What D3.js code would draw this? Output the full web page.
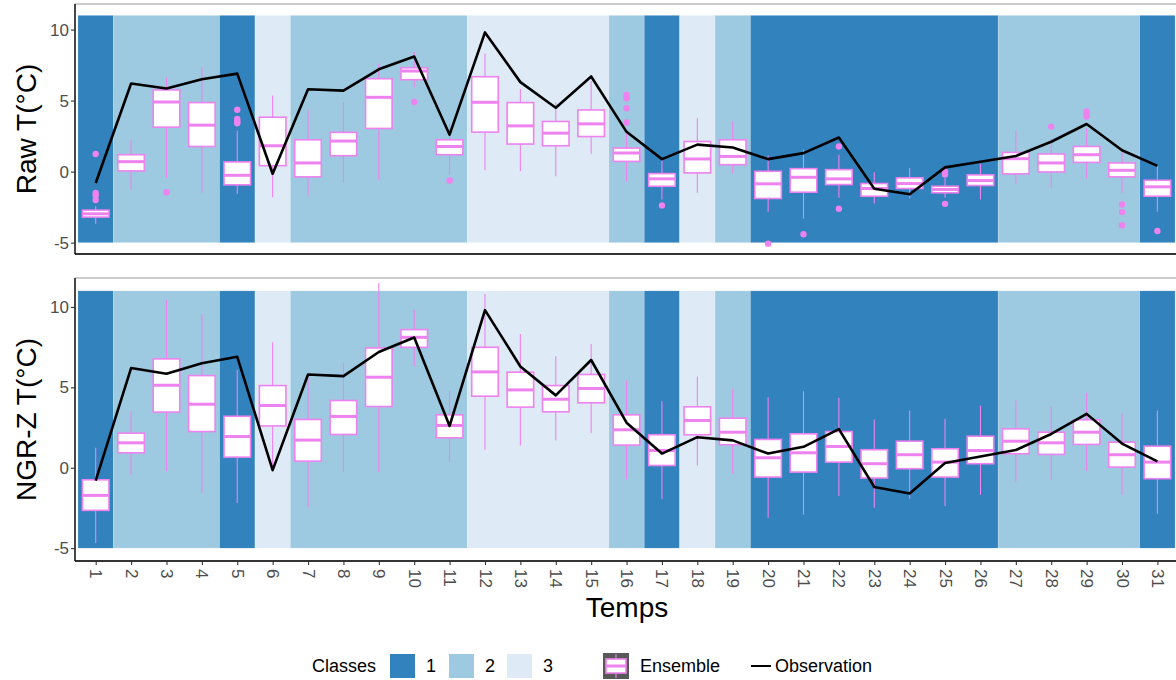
<!DOCTYPE html>
<html><head><meta charset="utf-8">
<script src="https://cdn.jsdelivr.net/npm/d3@7"></script>
<style>
html,body{margin:0;padding:0;background:#fff;}
svg{display:block;font-family:"Liberation Sans",Arial,sans-serif;}
</style></head>
<body><svg id="chart" width="1176" height="680"></svg>
<script>
const days = [1,2,3,4,5,6,7,8,9,10,11,12,13,14,15,16,17,18,19,20,21,22,23,24,25,26,27,28,29,30,31];
const classes = [1,2,2,2,1,3,2,2,2,2,2,3,3,3,3,2,1,3,2,1,1,1,1,1,1,1,2,2,2,2,1];
const classLabels = ["1","2","3"];
const yTicks = [-5,0,5,10];
const observation = [-0.8,6.2,5.85,6.5,6.9,-0.15,5.8,5.7,7.2,8.1,2.6,9.8,6.3,4.5,6.7,2.8,0.88,1.9,1.7,0.88,1.3,2.4,-1.2,-1.6,0.3,0.7,1.1,2.1,3.35,1.5,0.4];

// Raw ensemble boxplot statistics
const rawMin    = [-3.67,-1.26,-0.44,-1.49,-1.56,-1.8,-1.68,-0.79,-0.61,5.93,-0.21,0.09,0.02,-0.33,1.26,-0.68,-1.96,-1.49,-0.14,-2.83,-3.31,-1.84,-2.24,-1.89,-1.84,-1.96,-0.86,-1.14,-0.49,-1.49,-2.83];
const rawQ1     = [-3.2,0.05,3.13,1.77,-0.93,0.42,-0.37,1.12,3.04,6.47,1.19,2.78,1.94,1.82,2.47,0.72,-1.03,-0.09,0.49,-1.89,-1.45,-0.91,-1.73,-1.19,-1.49,-0.98,-0.16,-0.02,0.65,-0.37,-1.73];
const rawMedian = [-2.97,0.7,4.9,3.27,-0.26,1.82,0.61,2.15,5.23,7.08,1.77,4.88,3.22,2.71,3.36,1.31,-0.51,0.89,1.07,-0.86,-0.4,-0.51,-1.19,-0.84,-1.26,-0.63,0.91,0.61,1.19,0.09,-1.07];
const rawQ3     = [-2.71,1.19,5.75,4.86,0.68,3.83,2.24,2.76,6.54,7.31,2.24,6.68,4.86,3.53,4.34,1.66,-0.14,2.12,2.24,0.02,0.21,0.14,-0.84,-0.44,-1.03,-0.23,1.35,1.24,1.77,0.61,-0.61];
const rawMax    = [-2.43,2.24,6.63,7.34,2.9,5.35,4.34,4.88,7.62,8.43,3.4,8.32,5.82,4.88,6.38,2.7,0.84,3.76,3.53,1.14,1.54,1.19,-0.05,0.26,-0.45,0.56,2.87,2.29,3.06,1.42,0.44];
const rawOutliers = [[1.24,-1.5,-1.68,-2.0],[],[-1.45],[],[4.35,3.7,3.55,3.4],[],[],[],[],[4.9],[-0.63],[],[],[],[],[5.4,5.16,4.46,3.46],[-2.38],[],[],[-5.07],[-4.41],[1.77,-2.61],[],[],[0.02,-0.2,-2.27],[],[],[3.17],[4.23,4.04,3.88],[-2.31,-2.85,-3.78],[-4.18]];

// NGR-Z ensemble boxplot statistics
const ngrMin    = [-4.68,-0.44,-0.21,-1.58,-2.2,0.1,-2.45,-0.27,-0.27,6.31,0.35,1.12,1.39,1.7,2.15,-0.71,-1.95,0.14,-0.37,-3.11,-2.92,-1.76,-2.49,-1.93,-2.38,-1.68,-0.85,-0.75,-0.21,-1.68,-2.86];
const ngrQ1     = [-2.65,0.93,3.46,2.25,0.66,2.6,0.41,2.07,3.81,7.49,1.86,4.45,3.77,3.48,4.04,1.41,0.14,2.05,1.43,-0.58,-0.27,0.35,-0.64,-0.06,-0.58,0.25,0.87,0.83,1.45,0.04,-0.68];
const ngrMedian = [-1.72,1.55,5.13,3.95,1.94,3.87,1.72,3.19,5.63,8.11,2.63,5.96,4.84,4.26,4.93,2.36,1.07,2.94,2.21,0.62,0.93,1.32,0.25,0.81,0.35,1.07,1.65,1.55,2.21,0.81,0.35];
const ngrQ3     = [-0.75,2.15,6.77,5.73,3.2,5.11,3.0,4.18,7.45,8.59,3.29,7.49,5.94,5.11,5.8,3.29,2.05,3.79,3.08,1.76,2.11,2.25,1.12,1.65,1.18,1.96,2.42,2.21,2.98,1.59,1.34];
const ngrMax    = [1.24,3.52,10.45,9.56,6.08,7.8,5.57,6.52,11.49,9.81,4.8,10.81,8.32,6.93,7.7,5.42,4.14,5.67,4.9,4.39,4.76,4.35,3.0,3.56,3.04,3.87,4.18,3.83,4.66,3.35,3.56];
const ngrOutliers = [[],[],[],[],[],[],[],[],[],[],[],[],[],[],[],[],[],[],[],[],[],[],[],[],[],[],[],[],[],[],[]];

const classColors = {1:"#3182BD",2:"#9ECAE1",3:"#DEEBF7"};
const boxColor = "#EE82EE";

// contiguous runs of the same class
const runs = [];
days.forEach((d,i)=>{
  const last = runs[runs.length-1];
  if (last && last.cls===classes[i]) last.end = d;
  else runs.push({cls:classes[i], start:d, end:d});
});

const svg = d3.select("#chart");
const x = d3.scaleLinear().domain([0.5,31.5]).range([78,1175.1]);
const bw = 35.39*0.75;

const panels = [
  {title:"Raw T(°C)", top:4, bottom:254, mn:rawMin,q1:rawQ1,md:rawMedian,q3:rawQ3,mx:rawMax,out:rawOutliers, xlabels:false},
  {title:"NGR-Z T(°C)", top:278, bottom:561, mn:ngrMin,q1:ngrQ1,md:ngrMedian,q3:ngrQ3,mx:ngrMax,out:ngrOutliers, xlabels:true}
];

panels.forEach(p => {
  const y = d3.scaleLinear().domain([-5.8,11.8]).range([p.bottom,p.top]);
  const g = svg.append("g");
  g.append("rect").attr("x",75).attr("y",p.top).attr("width",1104).attr("height",p.bottom-p.top)
    .attr("fill","white").attr("stroke","#9a9a9a").attr("stroke-width",1);
  g.selectAll("rect.band").data(runs).enter().append("rect").attr("class","band")
    .attr("x",r=>x(r.start-0.5)).attr("width",r=>x(r.end+0.5)-x(r.start-0.5))
    .attr("y",y(11)).attr("height",y(-5)-y(11))
    .attr("fill",r=>classColors[r.cls])
    .attr("stroke","#ffffff").attr("stroke-opacity",0.25).attr("stroke-width",0.6);
  days.forEach((d,i)=>{
    g.append("line").attr("x1",x(d)).attr("x2",x(d)).attr("y1",y(p.q3[i])).attr("y2",y(p.mx[i]))
      .attr("stroke",boxColor).attr("stroke-width",1.1);
    g.append("line").attr("x1",x(d)).attr("x2",x(d)).attr("y1",y(p.q1[i])).attr("y2",y(p.mn[i]))
      .attr("stroke",boxColor).attr("stroke-width",1.1);
    g.append("rect").attr("x",x(d)-bw/2).attr("width",bw)
      .attr("y",y(p.q3[i])).attr("height",y(p.q1[i])-y(p.q3[i]))
      .attr("fill","white").attr("stroke",boxColor).attr("stroke-width",1.6);
    g.append("line").attr("x1",x(d)-bw/2).attr("x2",x(d)+bw/2).attr("y1",y(p.md[i])).attr("y2",y(p.md[i]))
      .attr("stroke",boxColor).attr("stroke-width",3);
    p.out[i].forEach(v=>{
      g.append("circle").attr("cx",x(d)).attr("cy",y(v)).attr("r",3.2).attr("fill",boxColor);
    });
  });
  const line = d3.line().x((d,i)=>x(days[i])).y(d=>y(d));
  g.append("path").datum(observation).attr("d",line).attr("fill","none")
    .attr("stroke","black").attr("stroke-width",2.6).attr("stroke-linejoin","round");
  g.append("line").attr("x1",75).attr("x2",1176).attr("y1",p.bottom).attr("y2",p.bottom).attr("stroke","black").attr("stroke-width",1.3);
  g.append("line").attr("x1",75).attr("x2",75).attr("y1",p.top).attr("y2",p.bottom).attr("stroke","black").attr("stroke-width",1.3);
  const ya = d3.axisLeft(y).tickValues(yTicks).tickSize(4).tickFormat(d=>d);
  const yg = g.append("g").attr("transform","translate(75,0)").call(ya);
  yg.select(".domain").remove();
  yg.selectAll(".tick line").attr("stroke","#333").attr("stroke-width",1.1);
  yg.selectAll(".tick text").attr("font-size",17).attr("fill","#4D4D4D").attr("font-family","Liberation Sans, Arial, sans-serif").attr("x",-6);
  g.append("text").attr("transform",`translate(36,${(p.top+p.bottom)/2}) rotate(-90)`)
    .attr("text-anchor","middle").attr("font-size",28).attr("fill","black").text(p.title);
  if (p.xlabels){
    const xa = d3.axisBottom(x).tickValues(days).tickSize(4).tickFormat(d=>d);
    const xg = g.append("g").attr("transform",`translate(0,${p.bottom})`).call(xa);
    xg.select(".domain").remove();
    xg.selectAll(".tick line").attr("stroke","#333").attr("stroke-width",1.1);
    xg.selectAll(".tick text").attr("font-size",17).attr("fill","#4D4D4D")
      .attr("font-family","Liberation Sans, Arial, sans-serif")
      .attr("transform","rotate(90)").attr("x",8).attr("y",0).attr("dy","0.35em").attr("text-anchor","start");
  }
});

svg.append("text").attr("x",627).attr("y",617).attr("text-anchor","middle").attr("font-size",28).attr("fill","black").text("Temps");

const ly = 666;
const lg = svg.append("g").attr("font-size",18).attr("fill","black");
lg.append("text").attr("x",312).attr("y",ly).attr("dy","0.35em").text("Classes");
const keyX = [390,449,507];
classLabels.forEach((c,i)=>{
  lg.append("rect").attr("x",keyX[i]).attr("y",ly-12).attr("width",25).attr("height",24).attr("fill",classColors[+c]);
  lg.append("text").attr("x",keyX[i]+36).attr("y",ly).attr("dy","0.35em").text(c);
});
const ex = 603;
lg.append("rect").attr("x",ex).attr("y",ly-13).attr("width",26).attr("height",26).attr("fill","#595959");
lg.append("line").attr("x1",ex+13).attr("x2",ex+13).attr("y1",ly-12).attr("y2",ly+12).attr("stroke",boxColor).attr("stroke-width",1.1);
lg.append("rect").attr("x",ex+3).attr("y",ly-7).attr("width",20).attr("height",14).attr("fill","white").attr("stroke",boxColor).attr("stroke-width",1.6);
lg.append("line").attr("x1",ex+3).attr("x2",ex+23).attr("y1",ly).attr("y2",ly).attr("stroke",boxColor).attr("stroke-width",3);
lg.append("text").attr("x",640).attr("y",ly).attr("dy","0.35em").text("Ensemble");
lg.append("line").attr("x1",751).attr("x2",771).attr("y1",ly).attr("y2",ly).attr("stroke","black").attr("stroke-width",2);
lg.append("text").attr("x",775).attr("y",ly).attr("dy","0.35em").text("Observation");
</script></body></html>
